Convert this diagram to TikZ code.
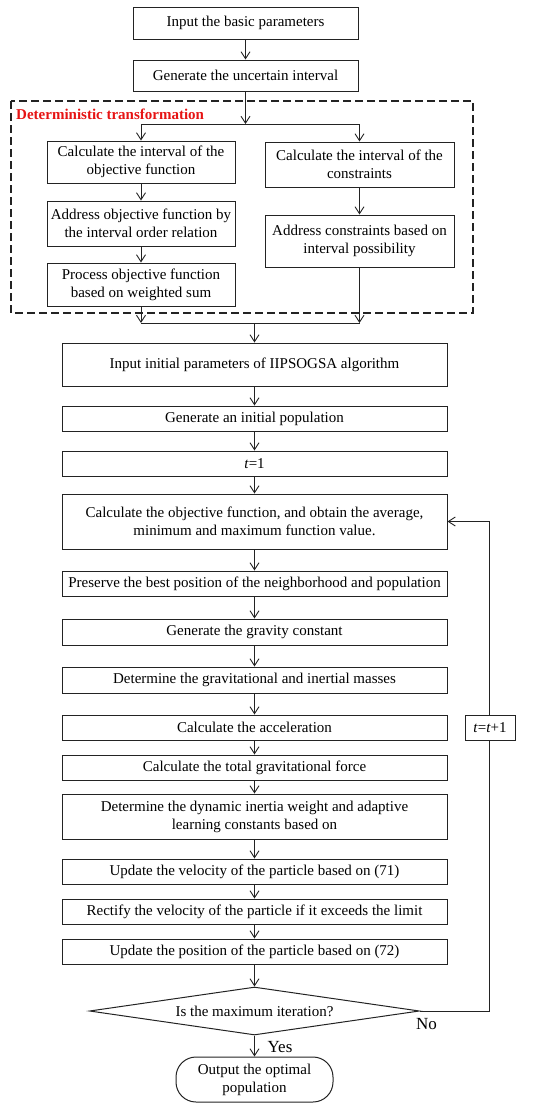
\documentclass[tikz,border=0pt]{standalone}
\usepackage{fontspec}
\setmainfont{Liberation Serif}
\usetikzlibrary{arrows.meta,shapes.geometric}
\definecolor{tred}{RGB}{230,20,20}
\definecolor{lc}{RGB}{35,35,35}
\begin{document}
\begin{tikzpicture}[x=1pt,y=-1pt,
  box/.style={draw=lc,line width=1pt,align=center,inner sep=0pt,font=\fontsize{15}{18}\selectfont},
  arr/.style={draw=lc,-{Straight Barb[length=7pt,width=9pt]},line width=0.9pt},
  ln/.style={draw=lc,line width=0.9pt},
  lbl/.style={font=\fontsize{17}{20}\selectfont,inner sep=0pt}]
\useasboundingbox (0,0) rectangle (550,1109);
% top
\node[box,minimum width=225pt,minimum height=32pt] (b1) at (245.5,23) {Input the basic parameters};
\node[box,minimum width=225pt,minimum height=31pt] (b2) at (245.5,75.5) {Generate the uncertain interval};
% dashed frame
\draw[lc,line width=1.2pt,dash pattern=on 8pt off 4pt] (11,101) rectangle (473,313);
\node[anchor=west,font=\fontsize{15}{18}\selectfont\bfseries,text=tred,inner sep=0pt] (title) at (16,114) {Deterministic transformation};
% inner boxes
\node[box,minimum width=188pt,minimum height=42pt] (L1) at (141,162) {Calculate the interval of the\\objective function};
\node[box,minimum width=188pt,minimum height=45pt] (L2) at (141,223.5) {Address objective function by\\the interval order relation};
\node[box,minimum width=188pt,minimum height=43pt] (L3) at (141,284.5) {Process objective function\\based on weighted sum};
\node[box,minimum width=189pt,minimum height=45pt] (R1) at (359.5,164.5) {Calculate the interval of the\\constraints};
\node[box,minimum width=189pt,minimum height=52pt] (R2) at (359.5,241) {Address constraints based on\\interval possibility};
% main column
\node[box,minimum width=385pt,minimum height=43pt] (M1) at (254.5,364.5) {Input initial parameters of IIPSOGSA algorithm};
\node[box,minimum width=385pt,minimum height=25pt] (M2) at (254.5,418.5) {Generate an initial population};
\node[box,minimum width=385pt,minimum height=25pt] (M3) at (254.5,463.5) {\textit{t}=1};
\node[box,minimum width=385pt,minimum height=55pt] (M4) at (254.5,521.5) {Calculate the objective function, and obtain the average,\\minimum and maximum function value.};
\node[box,minimum width=385pt,minimum height=25pt] (M5) at (254.5,583.5) {Preserve the best position of the neighborhood and population};
\node[box,minimum width=385pt,minimum height=26pt] (M6) at (254.5,632) {Generate the gravity constant};
\node[box,minimum width=385pt,minimum height=26pt] (M7) at (254.5,680) {Determine the gravitational and inertial masses};
\node[box,minimum width=385pt,minimum height=25pt] (M8) at (254.5,727.5) {Calculate the acceleration};
\node[box,minimum width=385pt,minimum height=25pt] (M9) at (254.5,767.5) {Calculate the total gravitational force};
\node[box,minimum width=385pt,minimum height=45pt] (M10) at (254.5,816.5) {Determine the dynamic inertia weight and adaptive\\learning constants based on};
\node[box,minimum width=385pt,minimum height=25pt] (M11) at (254.5,871.5) {Update the velocity of the particle based on (71)};
\node[box,minimum width=385pt,minimum height=25pt] (M12) at (254.5,911.5) {Rectify the velocity of the particle if it exceeds the limit};
\node[box,minimum width=385pt,minimum height=25pt] (M13) at (254.5,951.5) {Update the position of the particle based on (72)};
\node[box,diamond,aspect=6.9,minimum width=330pt,minimum height=48pt] (D) at (254.5,1011) {Is the maximum iteration?};
\node[box,rounded corners=20pt,minimum width=157pt,minimum height=45pt] (T) at (254.5,1079.5) {Output the optimal\\population};
% connectors top
\draw[arr] (b1) -- (b2);
\coordinate (s) at (245.5,124);
\coordinate (sl) at (141,124);
\coordinate (sr) at (359.5,124);
\draw[arr] (b2) -- (s);
\draw[ln] (sl) -- (sr);
\draw[arr] (sl) -- (L1);
\draw[arr] (sr) -- (R1);
\draw[arr] (L1) -- (L2);
\draw[arr] (L2) -- (L3);
\draw[arr] (R1) -- (R2);
\coordinate (ml) at (141,323);
\coordinate (mr) at (359.5,323);
\coordinate (mc) at (254.5,323);
\draw[arr] (L3) -- (ml);
\draw[arr] (R2) -- (mr);
\draw[ln] (ml) -- (mr);
\draw[arr] (mc) -- (M1);
% main chain
\draw[arr] (M1) -- (M2);
\draw[arr] (M2) -- (M3);
\draw[arr] (M3) -- (M4);
\draw[arr] (M4) -- (M5);
\draw[arr] (M5) -- (M6);
\draw[arr] (M6) -- (M7);
\draw[arr] (M7) -- (M8);
\draw[arr] (M8) -- (M9);
\draw[arr] (M9) -- (M10);
\draw[arr] (M10) -- (M11);
\draw[arr] (M11) -- (M12);
\draw[arr] (M12) -- (M13);
\draw[arr] (M13) -- (D);
\draw[arr] (D) -- (T);
% loop
\coordinate (lp) at (489,1011);
\draw[arr] (D.east) -- (lp) |- (M4.east);
\node[box,fill=white,minimum width=50pt,minimum height=25pt] (inc) at (490,727.5) {\textit{t}=\textit{t}+1};
\node[lbl] (yes) at (280,1047) {Yes};
\node[lbl] (no) at (426.5,1024) {No};
\end{tikzpicture}
\end{document}
